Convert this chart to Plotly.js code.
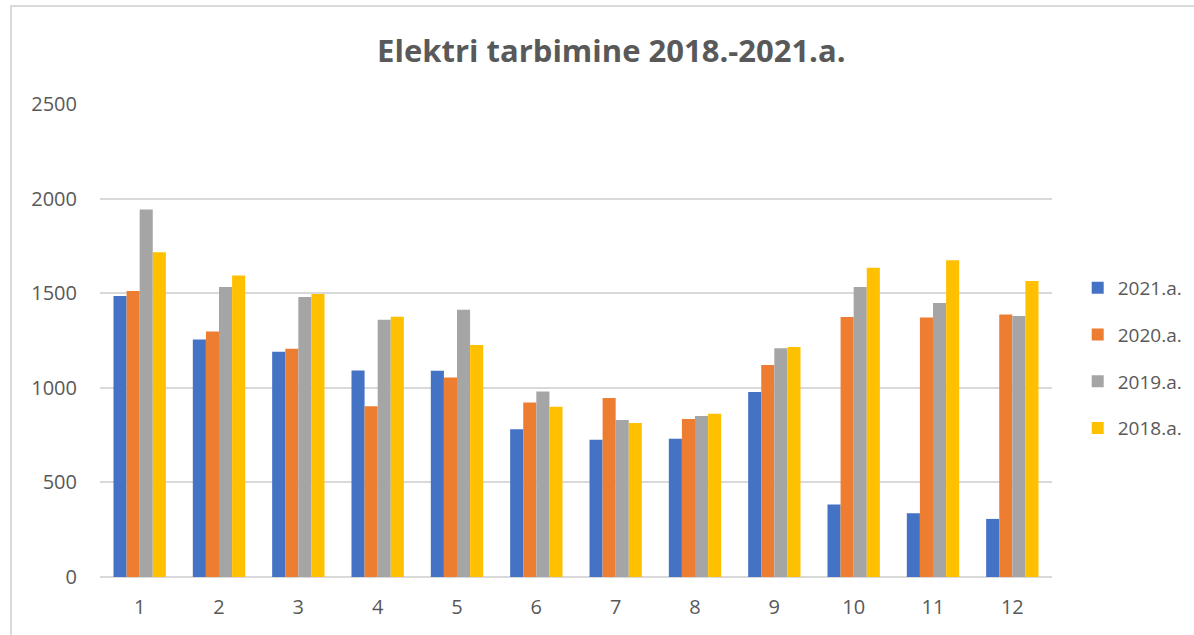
<!DOCTYPE html>
<html>
<head>
<meta charset="utf-8">
<script src="https://cdn.plot.ly/plotly-3.0.1.min.js"></script>
<style>
  body { margin: 0; background: #fff; }
  #frame { position: absolute; left: 10px; top: 5px; width: 1200px; height: 640px; border: 2px solid #d9d9d9; box-sizing: border-box; }
  #plot { position: absolute; left: 0; top: 0; width: 1194px; height: 635px; }
</style>
</head>
<body>
<div id="frame"></div>
<div id="plot"></div>
<script>
// months 1..12
const months = ['1', '2', '3', '4', '5', '6', '7', '8', '9', '10', '11', '12'];

const y2021 = [1485, 1255, 1191, 1092, 1090, 781, 726, 731, 978, 383, 337, 307];
const y2020 = [1511, 1298, 1207, 902, 1054, 922, 946, 835, 1120, 1374, 1372, 1388];
const y2019 = [1943, 1533, 1480, 1360, 1413, 981, 830, 851, 1209, 1533, 1448, 1379];
const y2018 = [1716, 1594, 1496, 1376, 1226, 900, 814, 863, 1216, 1635, 1674, 1564];

const seriesNames = ['2021.a.', '2020.a.', '2019.a.', '2018.a.'];
const seriesValues = [y2021, y2020, y2019, y2018];
const seriesColors = ['#4472C4', '#ED7D31', '#A5A5A5', '#FFC000'];

const data = seriesValues.map((vals, i) => {
    return {
        x: months,
        y: vals,
        name: seriesNames[i],
        legendgroup: seriesNames[i],
        type: 'bar',
        marker: { color: seriesColors[i], line: { width: 0 } },
        hoverinfo: 'x+y+name'
    };
});

const tickFont = { family: 'Open Sans, DejaVu Sans, sans-serif', size: 20, color: '#595959' };

const layout = {
    width: 1194,
    height: 635,
    paper_bgcolor: 'rgba(0,0,0,0)',
    plot_bgcolor: 'rgba(0,0,0,0)',
    margin: { l: 100, r: 142, t: 104, b: 58, autoexpand: false },
    title: {
        text: '<b>Elektri tarbimine 2018.-2021.a.</b>',
        font: { family: 'Liberation Sans Narrow, Open Sans, sans-serif', size: 31, color: '#595959' },
        x: 0.512,
        xanchor: 'center',
        y: 0.92,
        yanchor: 'middle'
    },
    barmode: 'group',
    bargap: 0.34,
    bargroupgap: 0,
    xaxis: {
        type: 'category',
        tickfont: tickFont,
        showgrid: false,
        showline: false,
        ticks: '',
        ticklabelstandoff: 16,
        zeroline: false
    },
    yaxis: {
        range: [0, 2500],
        dtick: 500,
        tickfont: tickFont,
        gridcolor: '#d9d9d9',
        gridwidth: 1.5,
        zeroline: true,
        zerolinecolor: '#d9d9d9',
        zerolinewidth: 1.5,
        showline: false,
        ticks: '',
        ticklabelstandoff: 22
    },
    legend: {
        x: 1.027,
        xanchor: 'left',
        y: 0.463,
        yanchor: 'middle',
        font: { family: 'Open Sans, DejaVu Sans, sans-serif', size: 19, color: '#595959' },
        tracegroupgap: 19,
        itemwidth: 30
    },
    showlegend: true
};

Plotly.newPlot('plot', data, layout, { displayModeBar: false });
</script>
</body>
</html>
